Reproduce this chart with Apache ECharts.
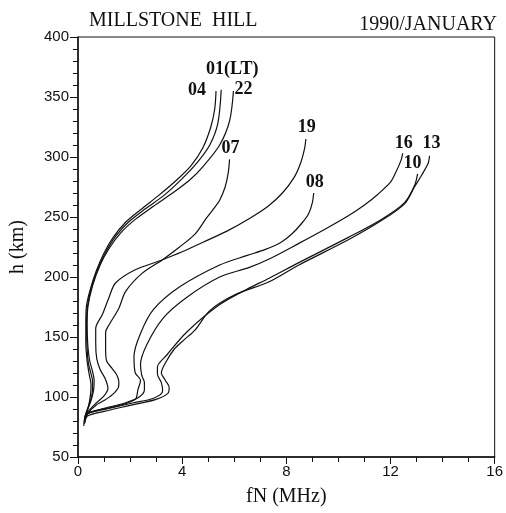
<!DOCTYPE html>
<html>
<head>
<meta charset="utf-8">
<script src="https://cdn.jsdelivr.net/npm/echarts@6/dist/echarts.min.js"></script>
<style>
  html, body { margin: 0; padding: 0; background: #fff; }
  #chart { width: 506px; height: 513px; }
</style>
</head>
<body>
<div id="chart"></div>
<script>
// electron density profiles, [fN (MHz), h (km)]
var p01 = [[0.25,78],[0.3,86],[0.45,95],[0.55,104],[0.56,113],[0.48,121],[0.4,128],[0.35,140],[0.33,160],[0.36,175],[0.5,190],[0.75,206],[1.05,220],[1.45,234],[1.95,246],[2.6,257],[3.3,268],[4.0,282],[4.6,296],[5.06,310],[5.37,328],[5.5,356]];
var p04 = [[0.22,76],[0.28,84],[0.4,92],[0.48,102],[0.5,110],[0.42,120],[0.35,130],[0.3,145],[0.3,160],[0.32,175],[0.45,188],[0.7,205],[1.0,220],[1.35,233],[1.8,245],[2.4,256],[3.1,268],[3.8,281],[4.35,293],[4.8,308],[5.1,325],[5.25,340],[5.3,355]];
var p22 = [[0.27,80],[0.35,88],[0.5,97],[0.6,106],[0.62,114],[0.55,122],[0.45,130],[0.38,142],[0.35,160],[0.38,175],[0.55,192],[0.85,210],[1.2,224],[1.65,237],[2.2,248],[2.9,259],[3.7,271],[4.3,281],[4.8,292],[5.44,310],[5.82,330],[5.97,355]];
var p07 = [[0.25,79],[0.4,87],[0.68,93],[1.0,97],[1.32,102],[1.55,108],[1.57,112],[1.5,118],[1.3,124],[1.1,130],[1.06,140],[1.06,154],[1.19,160],[1.57,174],[1.83,188],[2.46,203],[3.22,214],[3.9,225],[4.5,236],[4.93,249],[5.25,258],[5.44,264],[5.65,275],[5.77,287],[5.82,298]];
var p19 = [[0.25,80],[0.4,88],[0.7,95],[1.0,101],[1.15,107],[1.05,115],[0.85,123],[0.72,132],[0.68,145],[0.68,157],[0.94,169],[1.19,183],[1.44,195],[2.2,206],[3.2,214],[4.0,221],[4.8,229],[5.7,238],[6.6,249],[7.3,259],[7.85,270],[8.3,283],[8.55,295],[8.7,307],[8.75,315]];
var p08 = [[0.24,78],[0.3,85],[0.8,89],[1.6,93],[2.2,98],[2.3,106],[2.4,114],[2.2,120],[2.15,134],[2.4,153],[2.9,173],[3.92,192],[5.44,210],[6.5,218],[7.2,223],[7.8,229],[8.22,236],[8.6,245],[8.86,253],[9.0,262],[9.05,270]];
var p16 = [[0.25,80],[0.32,86],[0.9,90],[1.8,95],[2.35,100],[2.55,106],[2.55,112],[2.45,118],[2.4,127],[2.65,144],[3.28,166],[4.17,183],[5.44,200],[6.58,208],[7.34,215],[8.48,228],[9.5,240],[10.38,251],[11.0,260],[11.52,269],[12.0,279],[12.2,287],[12.4,297],[12.47,303]];
var p10 = [[0.25,80],[0.35,86],[1.1,90],[2.1,95],[2.9,99],[3.25,105],[3.2,112],[3.05,119],[3.05,125],[3.41,135],[4.17,154],[5.44,177],[6.5,190],[7.34,199],[8.48,212],[10.38,233],[11.65,248],[12.54,262],[12.92,276],[13.04,286]];
var p13 = [[0.25,78],[0.35,84],[1.0,88],[2.0,93],[3.0,98],[3.45,103],[3.5,108],[3.35,114],[3.2,120],[3.4,130],[3.7,140],[4.04,147],[4.5,156],[5.06,172],[6.0,185],[7.34,196],[8.48,210],[10.38,231],[11.65,247],[12.54,261],[12.92,275],[13.2,285],[13.45,295],[13.5,301]];

var hours = ['01(LT)','04','22','07','19','08','16','10','13'];
var profiles = [p01, p04, p22, p07, p19, p08, p16, p10, p13];
// label offsets from the end of each curve (px)
var labelOffsets = [[11,-20],[-19,-1],[10,-2],[1,-11],[1,-12],[1,-11],[1,-10],[-5,-10],[2,-12]];

var myChart = echarts.init(document.getElementById('chart'));

var series = [];
for (var i = 0; i < profiles.length; i++) {
    series.push({
        name: hours[i],
        type: 'line',
        data: profiles[i],
        showSymbol: false,
        smooth: 0.3,
        lineStyle: { color: '#111', width: 1.2 },
        endLabel: {
            show: true,
            formatter: hours[i],
            offset: labelOffsets[i],
            distance: 0,
            align: 'center',
            verticalAlign: 'middle',
            fontFamily: 'Liberation Serif',
            fontWeight: 'bold',
            fontSize: 18,
            color: '#111'
        },
        animation: false
    });
}

var option = {
    backgroundColor: '#fff',
    animation: false,
    title: [
        {
            text: 'MILLSTONE  HILL',
            left: 84, top: 6,
            textStyle: { fontFamily: 'Liberation Serif', fontWeight: 'normal', fontSize: 20, color: '#111' }
        },
        {
            text: '1990/JANUARY',
            right: 4, top: 10,
            textStyle: { fontFamily: 'Liberation Serif', fontWeight: 'normal', fontSize: 20, color: '#111' }
        }
    ],
    grid: {
        left: 77, right: 8, top: 37, bottom: 56,
        show: true,
        borderColor: '#111',
        borderWidth: 1,
        backgroundColor: 'transparent'
    },
    xAxis: {
        type: 'value',
        min: 0, max: 16, interval: 4,
        name: 'fN (MHz)',
        nameLocation: 'middle',
        nameGap: 30,
        nameTextStyle: { fontFamily: 'Liberation Serif', fontSize: 20, color: '#111' },
        axisLine: { lineStyle: { color: '#111', width: 1.5 } },
        axisTick: { length: 7, lineStyle: { color: '#111' } },
        minorTick: { show: true, splitNumber: 4, length: 5, lineStyle: { color: '#111' } },
        splitLine: { show: false },
        axisLabel: { fontFamily: 'Liberation Sans', fontSize: 15, color: '#111', margin: 7 }
    },
    yAxis: {
        type: 'value',
        min: 50, max: 400, interval: 50,
        name: 'h (km)',
        nameLocation: 'middle',
        nameGap: 50,
        nameTextStyle: { fontFamily: 'Liberation Serif', fontSize: 20, color: '#111' },
        axisLine: { show: true, lineStyle: { color: '#111', width: 1.5 } },
        axisTick: { show: true, length: 8, lineStyle: { color: '#111' } },
        minorTick: { show: true, splitNumber: 5, length: 5, lineStyle: { color: '#111' } },
        splitLine: { show: false },
        axisLabel: { fontFamily: 'Liberation Sans', fontSize: 15, color: '#111', margin: 9 }
    },
    series: series
};

myChart.setOption(option);
</script>
</body>
</html>
